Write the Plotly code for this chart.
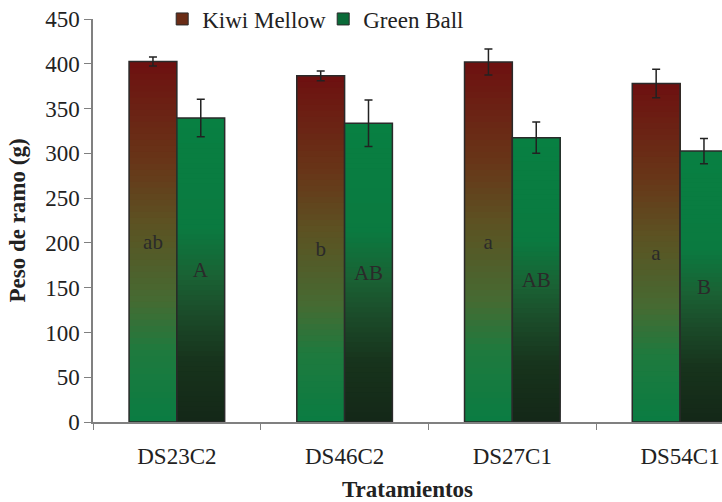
import plotly.graph_objects as go
from plotly.colors import sample_colorscale

categories = ["DS23C2", "DS46C2", "DS27C1", "DS54C1"]
kiwi_values = [402.5, 386.5, 402.0, 378.0]
kiwi_err = [5.0, 5.5, 14.5, 16.0]
kiwi_labels = ["ab", "b", "a", "a"]
green_values = [339.5, 333.5, 317.5, 302.5]
green_err = [21.0, 26.0, 17.5, 14.0]
green_labels = ["A", "AB", "AB", "B"]
series_names = ["Kiwi Mellow", "Green Ball"]

kiwi_scale = [[0.0, "#0a7c42"], [0.2, "#1f7a3e"], [0.34, "#466a32"],
              [0.55, "#5c5222"], [0.72, "#683618"], [1.0, "#6e1010"]]
green_scale = [[0.0, "#142818"], [0.2, "#17331c"], [0.36, "#1b4c2a"],
               [0.48, "#1a6234"], [0.64, "#0a7a40"], [1.0, "#088042"]]

FONT = "Liberation Serif"
N = 60

fig = go.Figure()


def add_series(name, values, errs, labels, scale, group, legend_color):
    cols = sample_colorscale(scale, [(i + 0.5) / N for i in range(N)])
    for i in range(N):
        fig.add_trace(go.Bar(
            x=categories,
            y=[v * (N - i) / N for v in values],
            base=[v * i / N for v in values],
            offsetgroup=group,
            marker=dict(color=cols[i], line=dict(width=0)),
            showlegend=False,
            hoverinfo="skip",
        ))
    fig.add_trace(go.Bar(
        x=categories,
        y=values,
        offsetgroup=group,
        marker=dict(color="rgba(0,0,0,0)", line=dict(color="#2a2a2a", width=1.5)),
        error_y=dict(type="data", array=errs, visible=True, color="#222222",
                     thickness=1.5, width=4),
        text=labels,
        textposition="inside",
        insidetextanchor="middle",
        textangle=0,
        constraintext="none",
        textfont=dict(family=FONT, size=21, color="#2a2a2a"),
        showlegend=False,
        name=name,
    ))
    fig.add_trace(go.Bar(
        x=categories,
        y=[None] * len(categories),
        offsetgroup=group,
        name=name,
        marker=dict(color=legend_color, line=dict(color="#2a2a2a", width=1)),
        showlegend=True,
    ))


add_series(series_names[0], kiwi_values, kiwi_err, kiwi_labels, kiwi_scale, "k", "#6a2c16")
add_series(series_names[1], green_values, green_err, green_labels, green_scale, "g", "#0a6a38")

fig.update_layout(
    width=722, height=502,
    margin=dict(l=93, r=0, t=19, b=80, autoexpand=False),
    paper_bgcolor="white", plot_bgcolor="white",
    barmode="group", bargap=0.43, bargroupgap=0,
    font=dict(family=FONT, size=23, color="#222222"),
    legend=dict(orientation="h", x=0.11, y=1.0, xanchor="left", yanchor="middle",
                font=dict(family=FONT, size=23, color="#222222"),
                bgcolor="rgba(0,0,0,0)", entrywidth=116, entrywidthmode="pixels",
                traceorder="normal"),
    xaxis=dict(
        type="category", range=[-0.5, 3.25],
        showline=True, linecolor="#808080", linewidth=1.5,
        ticks="outside", tickson="boundaries", ticklen=6, tickcolor="#808080",
        tickfont=dict(family=FONT, size=23, color="#222222"),
        ticklabelstandoff=13,
        title=dict(text="<b>Tratamientos</b>", font=dict(family=FONT, size=23, color="#222222"),
                   standoff=14),
        showgrid=False, zeroline=False,
    ),
    yaxis=dict(
        range=[0, 450], dtick=50,
        showline=True, linecolor="#808080", linewidth=1.5,
        ticks="outside", ticklen=7, tickcolor="#808080",
        tickfont=dict(family=FONT, size=23, color="#222222"),
        title=dict(text="<b>Peso de ramo (g)</b>", font=dict(family=FONT, size=23, color="#222222"),
                   standoff=13),
        showgrid=False, zeroline=False,
    ),
)

fig.write_html(
    "out.html",
    config={"displayModeBar": False},
    post_script="document.body.style.margin='0';document.documentElement.style.overflow='hidden';",
)
